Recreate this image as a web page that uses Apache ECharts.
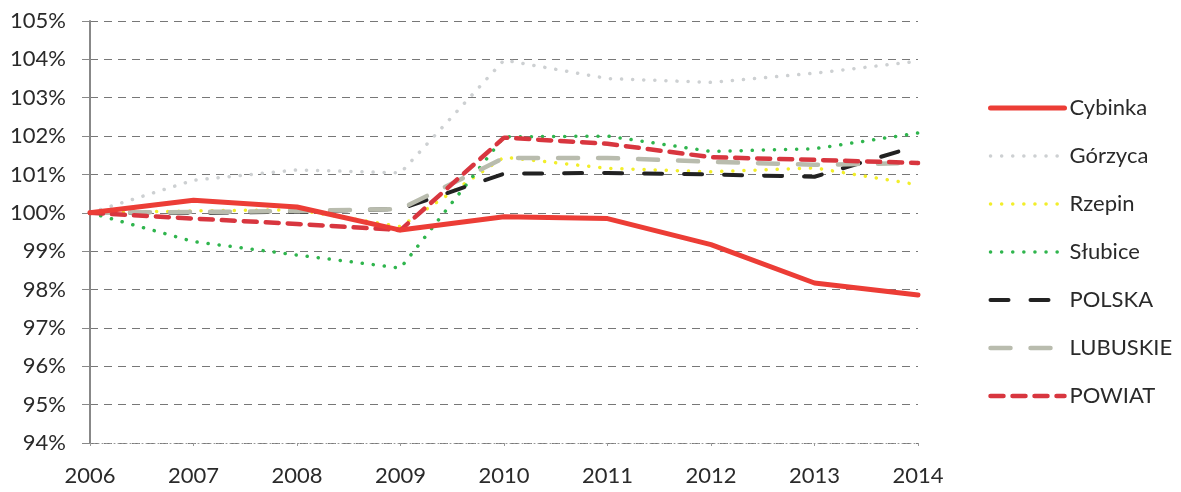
<!DOCTYPE html>
<html>
<head>
<meta charset="utf-8">
<script src="https://cdn.jsdelivr.net/npm/echarts@6/dist/echarts.min.js"></script>
<style>
    html, body { margin: 0; padding: 0; background: #ffffff; }
    #chart { width: 1181px; height: 492px; }
</style>
</head>
<body>
<div id="chart"></div>
<script>
    // lata i wartości (w %, 2006 = 100%)
    var years = ['2006', '2007', '2008', '2009', '2010', '2011', '2012', '2013', '2014'];
    var cybinka  = [100, 100.33, 100.15, 99.55, 99.9, 99.85, 99.17, 98.17, 97.86];
    var gorzyca  = [100, 100.85, 101.12, 101.04, 103.98, 103.5, 103.4, 103.64, 103.95];
    var rzepin   = [100, 100.05, 100.08, 99.64, 101.45, 101.16, 101.07, 101.17, 100.73];
    var slubice  = [100, 99.25, 98.9, 98.56, 101.98, 102.0, 101.6, 101.67, 102.08];
    var polska   = [100, 100.0, 100.03, 100.1, 101.02, 101.04, 101.0, 100.94, 101.75];
    var lubuskie = [100, 100.02, 100.05, 100.1, 101.43, 101.43, 101.33, 101.25, 101.3];
    var powiat   = [100, 99.85, 99.71, 99.55, 101.96, 101.8, 101.45, 101.38, 101.3];

    var font = 'Lato, "Liberation Sans", sans-serif';

    function line(name, data, color, width, type, z) {
        return {
            name: name,
            type: 'line',
            data: data,
            symbol: 'none',
            z: z,
            lineStyle: {color: color, width: width, type: type, cap: 'round'},
            itemStyle: {color: color}
        };
    }

    var myChart = echarts.init(document.getElementById('chart'));
    myChart.setOption({
        animation: false,
        textStyle: {fontFamily: font},
        grid: {left: 90, right: 263, top: 21, bottom: 49},
        legend: {
            orient: 'vertical',
            left: 983,
            top: 92,
            itemWidth: 74,
            itemHeight: 14,
            itemGap: 26,
            itemStyle: {opacity: 0},
            lineStyle: {width: 'inherit', type: 'inherit', cap: 'round'},
            textStyle: {fontSize: 22, color: '#2a2a2a', fontFamily: font},
            data: ['Cybinka', 'Górzyca', 'Rzepin', 'Słubice', 'POLSKA', 'LUBUSKIE', 'POWIAT']
        },
        xAxis: {
            type: 'category',
            boundaryGap: false,
            data: years,
            axisLine: {lineStyle: {color: '#999', width: 1, type: [1, 3]}},
            axisTick: {show: true, length: 3, lineStyle: {color: '#999'}},
            axisLabel: {fontSize: 22, color: '#2a2a2a', margin: 22}
        },
        yAxis: {
            type: 'value',
            min: 94,
            max: 105,
            interval: 1,
            axisLine: {show: true, lineStyle: {color: '#888', width: 2}},
            axisTick: {show: true, length: 8, lineStyle: {color: '#888'}},
            axisLabel: {fontSize: 22, color: '#2a2a2a', margin: 24, formatter: '{value}%'},
            splitLine: {lineStyle: {color: '#777', width: 1, type: [8, 6]}}
        },
        series: [
            line('Cybinka', cybinka, '#ec3d36', 5, 'solid', 8),
            line('Górzyca', gorzyca, '#cdd0d2', 3.5, [0.1, 11], 2),
            line('Rzepin', rzepin, '#f2ee2a', 3.5, [0.1, 11], 3),
            line('Słubice', slubice, '#2fb54d', 3.5, [0.1, 11], 4),
            line('POLSKA', polska, '#222222', 4, [18, 22], 5),
            line('LUBUSKIE', lubuskie, '#b9bcae', 4.5, [20, 20], 6),
            line('POWIAT', powiat, '#d8363f', 4.5, [13, 9], 7)
        ]
    });
</script>
</body>
</html>
